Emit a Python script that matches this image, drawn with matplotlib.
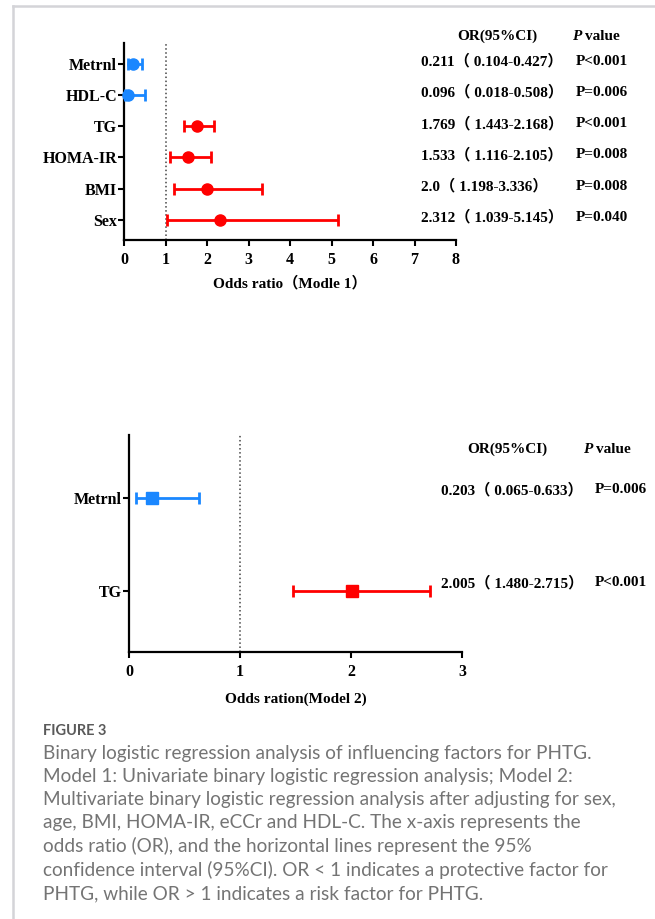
import matplotlib.pyplot as plt
from matplotlib.lines import Line2D
from matplotlib.transforms import blended_transform_factory

# Model 1 (univariate)
m1_names = ['Metrnl', 'HDL-C', 'TG', 'HOMA-IR', 'BMI', 'Sex']
m1_or = [0.211, 0.096, 1.769, 1.533, 2.0, 2.312]
m1_lo = [0.104, 0.018, 1.443, 1.116, 1.198, 1.039]
m1_hi = [0.427, 0.508, 2.168, 2.105, 3.336, 5.145]
m1_ci = ['0.211（ 0.104-0.427）', '0.096（ 0.018-0.508）', '1.769（ 1.443-2.168）',
         '1.533（ 1.116-2.105）', '2.0（ 1.198-3.336）', '2.312（ 1.039-5.145）']
m1_p = ['P<0.001', 'P=0.006', 'P<0.001', 'P=0.008', 'P=0.008', 'P=0.040']

# Model 2 (multivariate)
m2_names = ['Metrnl', 'TG']
m2_or = [0.203, 2.005]
m2_lo = [0.065, 1.480]
m2_hi = [0.633, 2.715]
m2_ci = ['0.203（ 0.065-0.633）', '2.005（ 1.480-2.715）']
m2_p = ['P=0.006', 'P<0.001']

caption = ("Binary logistic regression analysis of influencing factors for PHTG.\n"
           "Model 1: Univariate binary logistic regression analysis; Model 2:\n"
           "Multivariate binary logistic regression analysis after adjusting for sex,\n"
           "age, BMI, HOMA-IR, eCCr and HDL-C. The x-axis represents the\n"
           "odds ratio (OR), and the horizontal lines represent the 95%\n"
           "confidence interval (95%CI). OR < 1 indicates a protective factor for\n"
           "PHTG, while OR > 1 indicates a risk factor for PHTG.")

BLUE = '#1a87ff'
RED = '#ff0000'
SERIF = ['Liberation Serif', 'Noto Sans CJK SC']
W, H = 655, 919
FS = 11

fig = plt.figure(figsize=(W / 100, H / 100), dpi=100)


def px(x, y):
    return x / W, 1 - y / H


def bold(x, y, s, **kw):
    fig.text(*px(x, y), s, family=SERIF, fontweight='bold', fontsize=FS,
             va='center', **kw)


def forest(ax, names, ors, los, his, marker, ms):
    n = len(names)
    ys = list(range(n, 0, -1))
    for y, o, lo, hi in zip(ys, ors, los, his):
        c = BLUE if o < 1 else RED
        ax.errorbar(o, y, xerr=[[o - lo], [hi - o]], fmt=marker, color=c,
                    ms=ms, lw=2, capsize=4, capthick=2, clip_on=False, zorder=3)
    ax.axvline(1, color='#444444', ls=':', lw=1.1)
    ax.set_yticks(ys)
    ax.set_yticklabels(names)
    for s in ['top', 'right']:
        ax.spines[s].set_visible(False)
    for s in ['left', 'bottom']:
        ax.spines[s].set_linewidth(1.6)
    ax.tick_params(direction='out', length=4, width=1.5, labelsize=FS + 0.5)
    ax.tick_params(axis='x', pad=5)
    ax.tick_params(axis='y', pad=1)
    for lab in ax.get_xticklabels() + ax.get_yticklabels():
        lab.set_fontfamily(SERIF)
        lab.set_fontweight('bold')
    return ys


def header(x_or, x_p, y):
    bold(x_or, y, 'OR(95%CI)', ha='center')
    fig.text(*px(x_p, y), 'P', family=SERIF, fontweight='bold', style='italic',
             fontsize=FS, ha='left', va='center')
    bold(x_p + 13, y, 'value', ha='left')


# top panel
l, b = px(124, 240)
ax1 = fig.add_axes([l, b, 332 / W, 197 / H])
ax1.set_xlim(0, 8)
ax1.set_ylim(0.35, 6.67)
ax1.set_xticks(range(0, 9))
ys1 = forest(ax1, m1_names, m1_or, m1_lo, m1_hi, 'o', 8)
ax1.set_xlabel('Odds ratio（Modle 1）', family=SERIF, fontweight='bold',
               fontsize=FS, labelpad=5)
tr1 = blended_transform_factory(fig.transFigure, ax1.transData)
header(497, 572, 36)
for y, ci, p in zip(ys1, m1_ci, m1_p):
    ax1.text(421 / W, y + 0.08, ci, transform=tr1, family=SERIF,
             fontweight='bold', fontsize=FS, ha='left', va='center')
    ax1.text(628 / W, y + 0.08, p, transform=tr1, family=SERIF,
             fontweight='bold', fontsize=FS, ha='right', va='center')

# bottom panel
l, b = px(129, 652)
ax2 = fig.add_axes([l, b, 333 / W, 217 / H])
ax2.set_xlim(0, 3)
ax2.set_ylim(0.344, 2.68)
ax2.set_xticks(range(0, 4))
ys2 = forest(ax2, m2_names, m2_or, m2_lo, m2_hi, 's', 8)
ax2.set_xlabel('Odds ration(Model 2)', family=SERIF, fontweight='bold',
               fontsize=FS, labelpad=9)
tr2 = blended_transform_factory(fig.transFigure, ax2.transData)
header(507, 583, 449)
for y, ci, p in zip(ys2, m2_ci, m2_p):
    ax2.text(441 / W, y + 0.09, ci, transform=tr2, family=SERIF,
             fontweight='bold', fontsize=FS, ha='left', va='center')
    ax2.text(647 / W, y + 0.09, p, transform=tr2, family=SERIF,
             fontweight='bold', fontsize=FS, ha='right', va='center')

# caption
fig.text(*px(43, 731), 'FIGURE 3', family='Lato', fontsize=10.5, color='#5a5a5a',
         fontweight='bold', ha='left', va='center')
fig.text(*px(43, 745), caption, family='Lato', fontsize=13.7, color='#747474',
         ha='left', va='top', linespacing=1.42)

# page frame
fig.add_artist(Line2D([13 / W, 13 / W], [0, 1 - 6 / H], transform=fig.transFigure,
                      color='#d4d4d8', lw=1.8))
fig.add_artist(Line2D([13 / W, 1], [1 - 6 / H, 1 - 6 / H], transform=fig.transFigure,
                      color='#d4d4d8', lw=1.8))

fig.savefig('out.png', dpi=100)
